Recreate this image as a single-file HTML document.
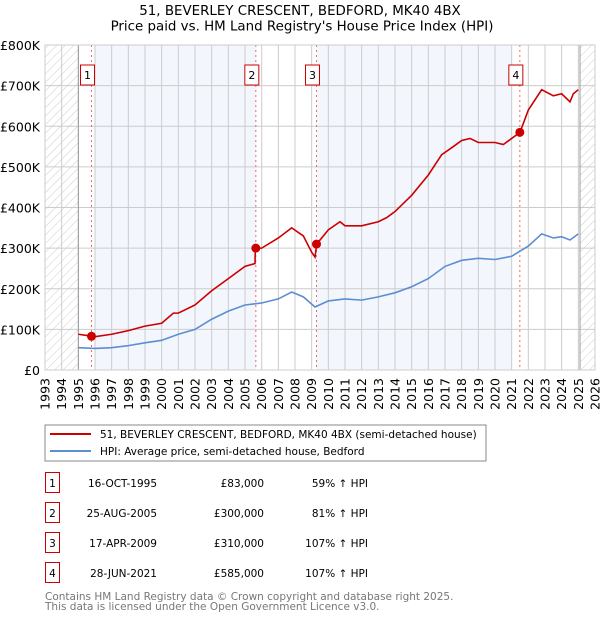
<!DOCTYPE html>
<html><head><meta charset="utf-8"><style>
body{margin:0;background:#fff;width:600px;height:620px;overflow:hidden;font-family:"DejaVu Sans","Liberation Sans",sans-serif;}
svg text{font-family:"DejaVu Sans","Liberation Sans",sans-serif;}
</style></head><body>
<svg id="c" width="600" height="620" xmlns="http://www.w3.org/2000/svg">
<defs><pattern id="h" width="6" height="6" patternUnits="userSpaceOnUse" patternTransform="rotate(45)"><line x1="0" y1="0" x2="0" y2="6" stroke="#ccc" stroke-width="1"/></pattern></defs>
<text x="300" y="15" text-anchor="middle" font-size="13.4">51, BEVERLEY CRESCENT, BEDFORD, MK40 4BX</text>
<text x="302" y="30.5" text-anchor="middle" font-size="13.4">Price paid vs. HM Land Registry's House Price Index (HPI)</text>
<g id="plot"></g>
<rect x="45" y="425" width="441" height="36" fill="#fff" stroke="#888"/>
<line x1="50" y1="434" x2="91" y2="434" stroke="#cc0000" stroke-width="2"/>
<text x="100" y="438" font-size="10.5">51, BEVERLEY CRESCENT, BEDFORD, MK40 4BX (semi-detached house)</text>
<line x1="50" y1="451" x2="91" y2="451" stroke="#5b8fd0" stroke-width="2"/>
<text x="100" y="455" font-size="10.5">HPI: Average price, semi-detached house, Bedford</text>
<g id="tbl" font-size="10.5"></g>
<text x="45" y="600" font-size="10.5" fill="#777">Contains HM Land Registry data © Crown copyright and database right 2025.</text>
<text x="45" y="610" font-size="10.5" fill="#777">This data is licensed under the Open Government Licence v3.0.</text>
</svg>
<script>
const yearTicks=[1993,1994,1995,1996,1997,1998,1999,2000,2001,2002,2003,2004,2005,2006,2007,2008,2009,2010,2011,2012,2013,2014,2015,2016,2017,2018,2019,2020,2021,2022,2023,2024,2025,2026];
const valueTicks=[0,100,200,300,400,500,600,700,800];
const valueLabels=["£0","£100K","£200K","£300K","£400K","£500K","£600K","£700K","£800K"];
const redT=[1995.0,1995.5,1995.8,1996,1997,1998,1999,2000,2000.7,2001,2002,2003,2004,2005,2005.6,2005.62,2006,2007,2007.8,2008.5,2009.0,2009.2,2009.3,2010,2010.7,2011,2012,2013,2013.5,2014,2015,2016,2016.8,2017.5,2018,2018.5,2019,2020,2020.5,2021,2021.5,2022,2022.8,2023.5,2024,2024.5,2024.7,2025];
const redV=[88,85,83,82,88,97,108,115,140,140,160,195,225,255,262,300,300,325,350,330,290,278,310,345,365,355,355,365,375,390,430,480,530,550,565,570,560,560,555,570,585,640,690,675,680,660,680,690];
const blueT=[1995,1996,1997,1998,1999,2000,2001,2002,2003,2004,2005,2006,2007,2007.8,2008.5,2009.2,2010,2011,2012,2013,2014,2015,2016,2017,2018,2019,2020,2021,2022,2022.8,2023.5,2024,2024.5,2025];
const blueV=[55,53,55,60,67,73,88,100,125,145,160,165,175,192,180,155,170,175,172,180,190,205,225,255,270,275,272,280,305,335,325,328,320,335];
const saleLabels=["1","2","3","4"];
const saleT=[1995.79,2005.65,2009.29,2021.49];
const saleV=[83,300,310,585];
const saleDates=["16-OCT-1995","25-AUG-2005","17-APR-2009","28-JUN-2021"];
const salePrices=["£83,000","£300,000","£310,000","£585,000"];
const saleHpi=["59% ↑ HPI","81% ↑ HPI","107% ↑ HPI","107% ↑ HPI"];
const NS="http://www.w3.org/2000/svg";
const X0=45,X1=595,Y0=370,Y1=45;
const x=t=>X0+(t-1993)/(2026-1993)*(X1-X0);
const y=v=>Y0-v/800*(Y0-Y1);
const g=document.getElementById('plot');
function mk(tag,at,par){const e=document.createElementNS(NS,tag);for(const k in at)e.setAttribute(k,at[k]);(par||g).appendChild(e);return e;}
let e;
e=mk('rect',{x:x(1996),y:Y1,width:x(2005.65)-x(1996),height:Y0-Y1,fill:'#f3f6fd'});


e=mk('rect',{x:x(2009.29),y:Y1,width:x(2021.0)-x(2009.29),height:Y0-Y1,fill:'#f3f6fd'});


e=mk('rect',{x:X0,y:Y1,width:x(1995)-X0,height:Y0-Y1,fill:'url(#h)'});


e=mk('rect',{x:x(2025.1),y:Y1,width:X1-x(2025.1),height:Y0-Y1,fill:'url(#h)'});


yearTicks.forEach(t=>{
 e=mk('line',{x1:x(t),y1:Y1,x2:x(t),y2:Y0,stroke:'#ccc'});
 
 
 e=mk('text',{x:0,y:0,transform:`translate(${x(t)+4.5},378) rotate(-90)`,'text-anchor':'end','font-size':'12.5'});
 e.textContent=t;
 
 
});
valueTicks.forEach((v,i)=>{
 e=mk('line',{x1:X0,y1:y(v),x2:X1,y2:y(v),stroke:'#ccc'});
 
 
 e=mk('text',{x:40,y:y(v)+5,'text-anchor':'end','font-size':'12.5'});
 e.textContent=valueLabels[i];
 
 
});
e=mk('line',{x1:x(1995),y1:Y1,x2:x(1995),y2:Y0,stroke:'#999'});


e=mk('line',{x1:x(2025.1),y1:Y1,x2:x(2025.1),y2:Y0,stroke:'#999'});


saleT.forEach((t,i)=>{
 e=mk('line',{x1:x(t),y1:Y1,x2:x(t),y2:Y0,stroke:'#ee6666','stroke-dasharray':'2,3'});
 
 
 e=mk('rect',{x:x(t)-11,y:65,width:14,height:20,fill:'#fff',stroke:'#cc0000'});
 
 
 e=mk('text',{x:x(t)-4,y:79,'text-anchor':'middle','font-size':'11'});
 e.textContent=saleLabels[i];
 
 
});
e=mk('polyline',{points:blueT.map((t,i)=>x(t)+','+y(blueV[i])).join(' '),fill:'none',stroke:'#5b8fd0','stroke-width':1.6});


e=mk('polyline',{points:redT.map((t,i)=>x(t)+','+y(redV[i])).join(' '),fill:'none',stroke:'#cc0000','stroke-width':1.6});


saleT.forEach((t,i)=>{
 e=mk('circle',{cx:x(t),cy:y(saleV[i]),r:4.5,fill:'#cc0000'});
 
 
});
e=mk('rect',{x:X0,y:Y1,width:X1-X0,height:Y0-Y1,fill:'none',stroke:'#ccc'});


const tb=document.getElementById('tbl');
saleLabels.forEach((s,i)=>{
 const yy=483+i*30;
 e=mk('rect',{x:45.5,y:yy-10.5,width:14,height:20,fill:'none',stroke:'#cc0000'},tb);
 
 
 e=mk('text',{x:52.5,y:yy+4,'text-anchor':'middle'},tb);e.textContent=s;
 
 
 e=mk('text',{x:157,y:yy+4,'text-anchor':'end'},tb);e.textContent=saleDates[i];
 
 
 e=mk('text',{x:264,y:yy+4,'text-anchor':'end'},tb);e.textContent=salePrices[i];
 
 
 e=mk('text',{x:368,y:yy+4,'text-anchor':'end'},tb);e.textContent=saleHpi[i];
 
 
});
</script>
</body></html>
